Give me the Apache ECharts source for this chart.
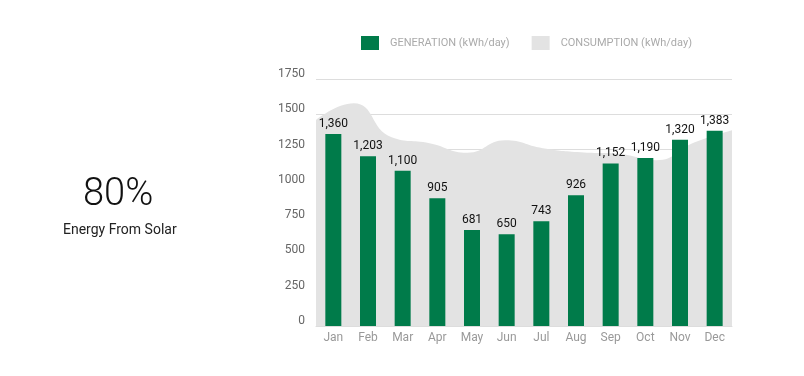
<!DOCTYPE html>
<html>
<head>
<meta charset="utf-8">
<script src="https://cdn.jsdelivr.net/npm/echarts@6/dist/echarts.min.js"></script>
<style>
  html, body { margin: 0; padding: 0; background: #fff; }
  #chart { width: 804px; height: 376px; }
</style>
</head>
<body>
<div id="chart"></div>
<script>
// 月份
var months = ['Jan', 'Feb', 'Mar', 'Apr', 'May', 'Jun', 'Jul', 'Aug', 'Sep', 'Oct', 'Nov', 'Dec'];
// 发电量 (柱形)
var generation = [1360, 1203, 1100, 905, 681, 650, 743, 926, 1152, 1190, 1320, 1383];
// 用电量 (灰色面积), 读图估计
var consumption = [1460, 1578, 1337, 1295, 1228, 1316, 1260, 1231, 1220, 1175, 1300, 1387];
var legendName = ['GENERATION (kWh/day)', 'CONSUMPTION (kWh/day)'];
var yTicks = { min: 0, max: 1750, interval: 250 };

var chart = echarts.init(document.getElementById('chart'));

var option = {
  backgroundColor: '#fff',
  textStyle: { fontFamily: 'Roboto' },
  animation: false,
  graphic: [
    {
      type: 'text',
      left: 83, top: 176,
      style: { text: '80%', font: '300 38px Roboto', fill: '#111' }
    },
    {
      type: 'text',
      left: 63, top: 223,
      style: { text: 'Energy From Solar', font: '14px Roboto', fill: '#222' }
    }
  ],
  legend: {
    left: 356,
    top: 31,
    itemWidth: 18,
    itemHeight: 14,
    itemGap: 22,
    icon: 'rect',
    data: legendName,
    textStyle: { color: '#aaa', fontSize: 11, padding: [0, 0, 0, 6] }
  },
  grid: { left: 316, right: 72, top: 79, bottom: 50 },
  xAxis: [
    { // 柱形用
      type: 'category',
      data: months,
      boundaryGap: true,
      axisTick: { show: false },
      axisLine: { lineStyle: { color: '#ddd' } },
      axisLabel: { color: '#999', fontSize: 12, margin: 6 }
    },
    { // 面积用, 隐藏
      type: 'category',
      data: months,
      boundaryGap: false,
      show: false
    }
  ],
  yAxis: {
    type: 'value',
    min: yTicks.min,
    max: yTicks.max,
    interval: yTicks.interval,
    axisTick: { show: false },
    axisLine: { show: false },
    axisLabel: {
      color: '#666',
      fontSize: 12,
      margin: 11,
      verticalAlign: 'bottom',
      lineHeight: 10,
      formatter: function (v) { return String(v); }
    },
    splitLine: { lineStyle: { color: '#ddd', width: 1 } }
  },
  series: [
    {
      name: legendName[1],
      type: 'line',
      xAxisIndex: 1,
      data: consumption,
      smooth: 0.5,
      symbol: 'none',
      lineStyle: { width: 0 },
      itemStyle: { color: '#e3e3e3' },
      areaStyle: { color: '#e3e3e3', opacity: 1 },
      z: 1
    },
    {
      name: legendName[0],
      type: 'bar',
      data: generation,
      barWidth: 16,
      itemStyle: { color: '#007b4a' },
      label: {
        show: true,
        position: 'top',
        distance: 4,
        color: '#111',
        fontSize: 12,
        formatter: function (p) { return p.value.toLocaleString('en-US'); }
      },
      z: 3
    }
  ]
};
chart.setOption(option);
</script>
</body>
</html>
